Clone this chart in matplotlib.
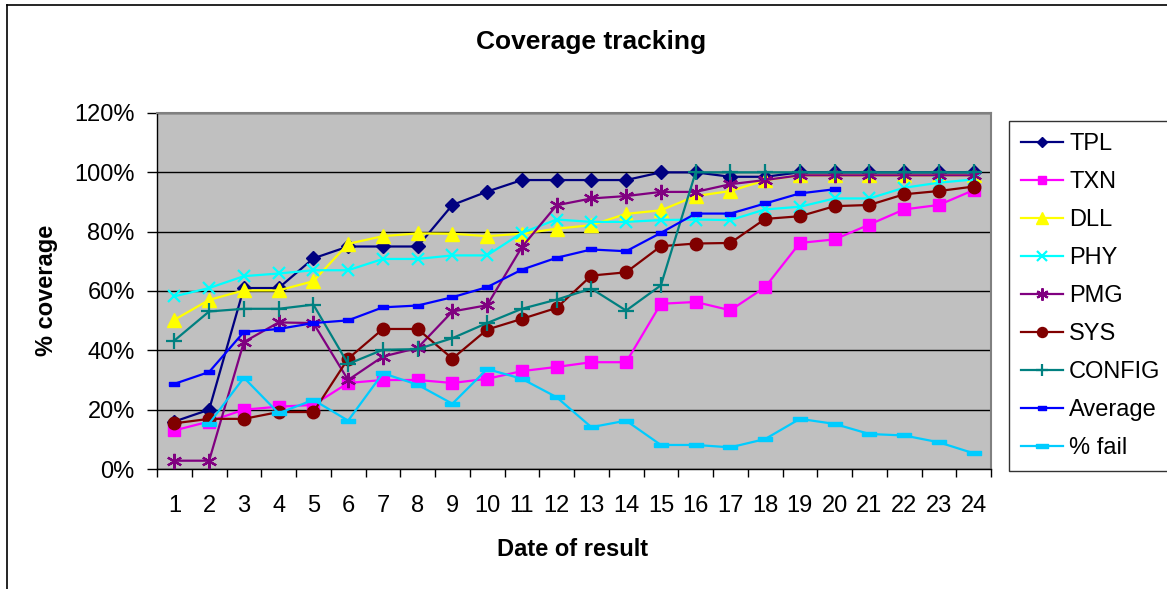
import numpy as np
import matplotlib
matplotlib.use('Agg')
import matplotlib.pyplot as plt
from matplotlib.lines import Line2D

plt.rcParams['font.family'] = ['Liberation Sans', 'DejaVu Sans']

# data (percent)
dates = list(range(1, 25))
tpl = [16, 20, 61, 61, 71, 75, 75, 75, 89, 93.5, 97.4, 97.4, 97.4, 97.4, 100, 100,
       98.5, 98.5, 100, 100, 100, 100, 100, 100]
txn = [13, 16, 20, 21, 21.6, 29, 30, 30, 29, 30.4, 33, 34.4, 36, 36, 55.7, 56.3,
       53.5, 61.3, 76.2, 77.4, 82.4, 87.5, 89, 94]
dll = [50.3, 57, 60.2, 60.2, 63.3, 75.9, 78.5, 79.4, 79.3, 78.5, 79.3, 81, 82.2, 86,
       87.2, 92, 93.7, 97.3, 99, 99, 99, 99, 99, 99]
phy = [58.2, 61, 65, 65.9, 67, 67, 70.8, 70.8, 72, 72, 79.6, 84.1, 83.3, 83.3, 83.9,
       84.1, 83.9, 87.5, 88.4, 91.2, 91.2, 94.8, 96.5, 97.6]
pmg = [2.8, 2.8, 42.8, 49.4, 49.2, 30, 37.9, 40.8, 53.1, 55.2, 74.8, 88.9, 91.2, 92,
       93.4, 93.4, 96, 97.4, 99, 99, 99, 99, 99, 99]
sys_ = [15.4, 16.9, 16.9, 19.2, 19.2, 37.2, 47.2, 47.2, 37.2, 47, 50.6, 54.3, 65.2,
        66.3, 75.1, 76, 76.2, 84.3, 85.2, 88.6, 89, 92.6, 93.7, 95.2]
config = [43.3, 53.1, 54, 54, 55.4, 35.4, 40.2, 40.4, 44.1, 49.2, 54, 57.1, 60.8,
          53.4, 61.9, 100, 100, 100, 100, 100, 100, 100, 100, 100]
average = [28.7, 32.7, 46.2, 47.2, 49.2, 50.1, 54.5, 55.1, 57.9, 61.3, 67.2, 71.2, 74,
           73.4, 79.6, 86.1, 86.1, 89.5, 92.9, 94.3, None, None, None, None]
fail = [None, 15.3, 30.8, 18.8, 23.3, 16.3, 32.3, 28.4, 22, 33.7, 30.4, 24.2, 14.1,
        16.3, 8.1, 8.1, 7.3, 10.1, 16.9, 15.2, 11.8, 11.3, 9, 5.3]

to_arr = lambda v: np.array([np.nan if x is None else x for x in v], dtype=float)

dash_small = [(-1, -0.45), (1, -0.45), (1, 0.45), (-1, 0.45), (-1, -0.45)]
dash_wide = [(-1, -0.35), (1, -0.35), (1, 0.35), (-1, 0.35), (-1, -0.35)]

series = [
    ('TPL', tpl, '#000080', 'D', 7),
    ('TXN', txn, '#FF00FF', 's', 8),
    ('DLL', dll, '#FFFF00', '^', 10),
    ('PHY', phy, '#00FFFF', 'x', 9),
    ('PMG', pmg, '#800080', (6, 2, 0), 11),
    ('SYS', sys_, '#800000', 'o', 9),
    ('CONFIG', config, '#008080', '+', 11),
    ('Average', average, '#0000FF', dash_small, 7),
    ('% fail', fail, '#00CCFF', dash_wide, 10),
]

fig = plt.figure(figsize=(11.67, 5.89), dpi=100)
ax = fig.add_axes([157 / 1167, 1 - 469 / 589, 834 / 1167, 356 / 589])
ax.set_facecolor('#C0C0C0')

for name, vals, col, mk, ms in series:
    ax.plot(dates, to_arr(vals), color=col, lw=1.6, marker=mk, markersize=ms,
            markeredgewidth=1.6 if mk in ('x', '+', (6, 2, 0)) else 1,
            markerfacecolor=col, markeredgecolor=col, label=name, zorder=3)

ax.set_xlim(0.5, 24.5)
ax.set_ylim(0, 120)
ax.set_yticks(range(0, 121, 20))
ax.set_yticklabels([f'{v}%' for v in range(0, 121, 20)])
ax.grid(axis='y', color='black', lw=1, zorder=1)
ax.set_axisbelow(True)

ax.set_xticks(np.arange(0.5, 25, 1))
ax.set_xticklabels([])
ax.set_xticks(dates, minor=True)
ax.set_xticklabels([str(d) for d in dates], minor=True)
ax.tick_params(axis='x', which='major', length=6, width=1, direction='out')
ax.tick_params(axis='x', which='minor', length=0, pad=19, labelsize=17)
ax.tick_params(axis='y', length=7, width=1, direction='out', pad=9, labelsize=17)

for s in ax.spines.values():
    s.set_color('#808080')
    s.set_linewidth(1.5)
ax.spines['left'].set_color('black')
ax.spines['left'].set_linewidth(1)
ax.spines['bottom'].set_color('black')
ax.spines['bottom'].set_linewidth(1)

fig.text(591 / 1167, 1 - 42 / 589, 'Coverage tracking', ha='center', va='center',
         fontsize=19, fontweight='bold')
fig.text(47 / 1167, 1 - 290 / 589, '% coverage', ha='center', va='center',
         rotation=90, fontsize=17, fontweight='bold')
fig.text(573 / 1167, 1 - 550 / 589, 'Date of result', ha='center', va='center',
         fontsize=17, fontweight='bold')

leg = fig.legend(loc='upper left', bbox_to_anchor=(1009 / 1167, 1 - 121 / 589),
                 fontsize=17, frameon=True, fancybox=False, shadow=False,
                 handlelength=1.8, handletextpad=0.25, labelspacing=0.68,
                 borderpad=0.5, borderaxespad=0, markerscale=0.8)
leg.get_frame().set_edgecolor('black')
leg.get_frame().set_linewidth(1)

# outer chart border (left and top)
fig.add_artist(Line2D([7 / 1167, 7 / 1167], [0, 1 - 5 / 589], color='black', lw=1.2,
                      transform=fig.transFigure))
fig.add_artist(Line2D([7 / 1167, 1], [1 - 5 / 589, 1 - 5 / 589], color='black', lw=1.2,
                      transform=fig.transFigure))

fig.savefig('out.png', dpi=100)
